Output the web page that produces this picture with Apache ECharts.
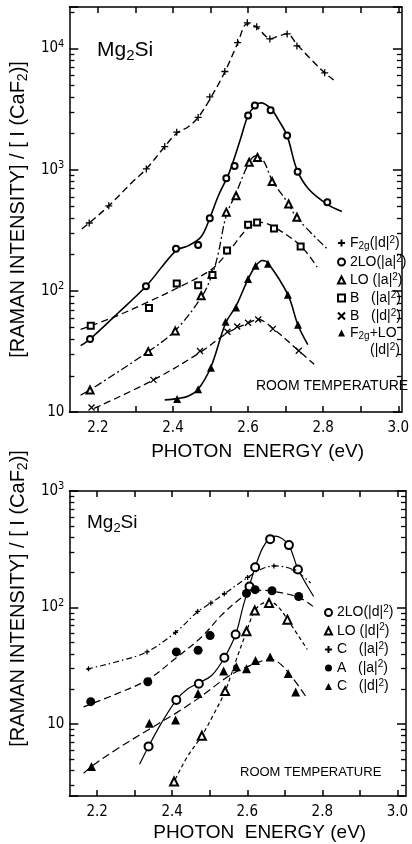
<!DOCTYPE html>
<html><head><meta charset="utf-8">
<script src="https://cdn.jsdelivr.net/npm/echarts@6/dist/echarts.min.js"></script>
<style>html,body{margin:0;padding:0;background:#fff}#c{width:412px;height:844px}</style>
</head><body><div id="c"></div>
<script>
// ================= DATA =================
// Axis ticks / labels
const X_TICKS = [2.2, 2.3, 2.4, 2.5, 2.6, 2.7, 2.8, 2.9, 3.0];
const X_LABELS = [2.2, 2.4, 2.6, 2.8, 3.0];
const TOP_Y_MINOR = [20,30,40,50,60,70,80,90,200,300,400,500,600,700,800,900,2000,3000,4000,5000,6000,7000,8000,9000,20000];
const BOT_Y_MINOR = [3,4,5,6,7,8,9,20,30,40,50,60,70,80,90,200,300,400,500,600,700,800,900];

// ---- Top panel: measured points [photon energy eV, intensity ratio] ----
const TOP_F2G_D_PTS = [[2.177,363],[2.229,503],[2.329,1015],[2.378,1550],[2.41,2040],[2.467,2700],[2.498,3980],[2.538,6460],[2.572,11200],[2.598,16300],[2.623,15100],[2.658,12000],[2.704,13200],[2.73,10500],[2.804,6300]];
const TOP_2LO_A_PTS = [[2.179,40],[2.328,109],[2.408,222],[2.467,239],[2.498,398],[2.542,850],[2.564,1070],[2.60,2800],[2.618,3390],[2.66,3090],[2.704,1910],[2.732,960],[2.811,538]];
const TOP_LO_A_PTS = [[2.179,15.2],[2.334,31.5],[2.406,46.7],[2.475,91],[2.504,137],[2.542,446],[2.568,609],[2.603,1150],[2.625,1260],[2.664,797],[2.708,521],[2.73,405]];
const TOP_B_A_PTS = [[2.181,51.6],[2.336,72],[2.41,115],[2.467,111],[2.505,135],[2.544,215],[2.60,351],[2.624,366],[2.669,327],[2.74,232]];
const TOP_B_D_PTS = [[2.183,10.9],[2.348,18.4],[2.472,31.9],[2.545,46],[2.571,50.7],[2.60,54.5],[2.627,58],[2.666,48.5],[2.735,32]];
const TOP_F2GLO_D_PTS = [[2.411,12.8],[2.467,15.4],[2.501,23.2],[2.54,55.7],[2.568,73],[2.60,125],[2.62,161],[2.653,167],[2.706,92.7],[2.733,52.4]];

// ---- Top panel: drawn guide curves ----
const TOP_F2G_D_CURVE = [[2.157,324],[2.177,363],[2.229,503],[2.29,780],[2.329,1015],[2.378,1550],[2.41,2000],[2.44,2250],[2.467,2700],[2.498,3800],[2.538,6400],[2.572,11000],[2.598,16000],[2.623,15000],[2.645,12800],[2.658,12000],[2.68,12600],[2.704,13200],[2.73,10800],[2.77,8000],[2.804,6300],[2.828,5500]];
const TOP_2LO_A_CURVE = [[2.154,35.3],[2.179,40],[2.25,64],[2.328,109],[2.408,215],[2.44,235],[2.475,280],[2.498,398],[2.52,600],[2.55,950],[2.58,1800],[2.60,2800],[2.62,3400],[2.634,3560],[2.66,3200],[2.68,2600],[2.704,1900],[2.73,1000],[2.76,700],[2.81,520],[2.85,452]];
const TOP_LO_A_CURVE = [[2.154,13.8],[2.179,15.2],[2.334,31.5],[2.406,47],[2.475,88],[2.504,135],[2.52,200],[2.542,420],[2.568,640],[2.60,1100],[2.62,1300],[2.64,1200],[2.664,820],[2.708,520],[2.73,400],[2.809,225]];
const TOP_B_A_CURVE = [[2.154,48],[2.244,61],[2.33,80],[2.41,105],[2.502,150],[2.55,215],[2.60,330],[2.634,367],[2.67,335],[2.74,235],[2.784,157]];
const TOP_B_D_CURVE = [[2.19,10.7],[2.348,18.4],[2.472,31],[2.545,45],[2.60,54],[2.627,58],[2.666,49],[2.735,32],[2.776,24.8]];
const TOP_F2GLO_D_CURVE = [[2.378,12.6],[2.411,12.9],[2.44,13.5],[2.467,15.4],[2.501,23.5],[2.54,54],[2.568,75],[2.60,125],[2.62,160],[2.638,178],[2.653,170],[2.706,93],[2.733,52],[2.759,36]];

// ---- Bottom panel: measured points ----
const BOT_2LO_D_PTS = [[2.337,6.4],[2.411,16],[2.471,22.1],[2.539,36.9],[2.569,58.5],[2.606,151],[2.621,221],[2.661,386],[2.711,343],[2.735,212]];
const BOT_LO_D_PTS = [[2.405,3.2],[2.479,7.9],[2.541,19.1],[2.598,62.4],[2.62,94],[2.658,109],[2.707,78.5]];
const BOT_C_A_PTS = [[2.177,29.7],[2.333,41.5],[2.409,61],[2.468,92.4],[2.503,109],[2.539,131],[2.601,181],[2.671,227],[2.724,210]];
const BOT_A_A_PTS = [[2.183,15.5],[2.335,23],[2.411,41.5],[2.469,42.9],[2.501,57.3],[2.598,132],[2.621,142],[2.666,139],[2.737,124]];
const BOT_C_D_PTS = [[2.185,4.3],[2.339,10.1],[2.409,10.8],[2.469,18.2],[2.537,28.4],[2.571,30.9],[2.598,29.7],[2.622,35],[2.661,37.6],[2.709,27.1],[2.729,18.8]];

// ---- Bottom panel: drawn guide curves ----
const BOT_2LO_D_CURVE = [[2.313,4.5],[2.337,6.4],[2.37,10],[2.411,16],[2.44,19.8],[2.471,22.5],[2.505,26],[2.539,37],[2.569,58.5],[2.59,105],[2.606,155],[2.621,221],[2.64,320],[2.66,395],[2.675,410],[2.69,395],[2.711,343],[2.735,215],[2.777,124]];
const BOT_LO_D_CURVE = [[2.398,2.95],[2.405,3.2],[2.44,5.2],[2.479,7.9],[2.51,12],[2.541,19],[2.57,35],[2.598,62],[2.62,94],[2.64,108],[2.658,112],[2.68,103],[2.707,79],[2.76,43.5]];
const BOT_C_A_CURVE = [[2.173,29.3],[2.177,29.7],[2.25,34],[2.333,41.5],[2.409,61],[2.468,92],[2.503,109],[2.539,131],[2.601,181],[2.64,215],[2.671,227],[2.724,210],[2.769,162]];
const BOT_A_A_CURVE = [[2.164,14],[2.25,18],[2.335,24],[2.411,37],[2.479,56],[2.53,85],[2.58,118],[2.61,135],[2.64,140],[2.666,138],[2.737,122],[2.777,101]];
const BOT_C_D_CURVE = [[2.164,3.76],[2.185,4.3],[2.25,6],[2.339,9],[2.409,12.3],[2.469,16.5],[2.537,24],[2.571,28],[2.622,33],[2.661,36],[2.70,30],[2.76,16.4]];

// Axis ranges
const TOP_X_RANGE = [2.124, 3.0097];
const TOP_Y_RANGE = [10, 22000];
const BOT_X_RANGE = [2.126, 3.023];
const BOT_Y_RANGE = [2.4, 1000];

// ================= STYLE / BUILD =================
const FONT = "'Liberation Sans', 'DejaVu Sans', sans-serif";
const NARROW = "'Liberation Sans Narrow', 'DejaVu Sans Condensed', 'Liberation Sans', sans-serif";
const K = '#000';
const AXW = 1.5;

const LEGEND_TEXT = {
  'F2g_d': '{t|F}{sub|2g}{t|(|d|}{sup|2}{t|)}',
  '2LO_a': '{t|2LO(|a|}{sup|2}{t|)}',
  'LO_a': '{t|LO (|a|}{sup|2}{t|)}',
  'B_a': '{t|B   (|a|}{sup|2}{t|)}',
  'B_d': '{t|B   (|d|}{sup|2}{t|)}',
  'F2gLO_d': '{t|F}{sub|2g}{t|+LO}',
  '2LO_d': '{t|2LO(|d|}{sup|2}{t|)}',
  'LO_d': '{t|LO (|d|}{sup|2}{t|)}',
  'C_a': '{t|C   (|a|}{sup|2}{t|)}',
  'A_a': '{t|A   (|a|}{sup|2}{t|)}',
  'C_d': '{t|C   (|d|}{sup|2}{t|)}'
};
function legendRich(fs, lh) {
  return {
    t: {fontFamily: FONT, fontSize: fs, lineHeight: lh, color: K},
    sub: {fontFamily: FONT, fontSize: fs - 4, lineHeight: fs - 4, verticalAlign: 'bottom', color: K},
    sup: {fontFamily: FONT, fontSize: fs - 4, lineHeight: fs - 4, verticalAlign: 'top', color: K}
  };
}

function logLabel(v) {
  const e = Math.log10(v);
  const n = Math.round(e);
  if (Math.abs(e - n) > 1e-6) return '';
  return n === 1 ? '{b|10}' : '{b|10}{s|' + n + '}';
}
const LOG_RICH = {
  b: {fontFamily: NARROW, fontSize: 15, lineHeight: 20, color: K},
  s: {fontFamily: NARROW, fontSize: 11, lineHeight: 11, verticalAlign: 'top', color: K}
};

function xAxisDef(grid, range, pos, withLabels, nameGap) {
  return {
    type: 'value', gridIndex: grid, position: pos, min: range[0], max: range[1],
    axisLine: {show: true, onZero: false, lineStyle: {color: K, width: AXW}},
    axisTick: {show: true, inside: true, length: 6, customValues: X_TICKS, lineStyle: {color: K, width: AXW}},
    axisLabel: withLabels ? {show: true, customValues: X_LABELS, formatter: v => Number(v).toFixed(1), margin: 9,
      fontFamily: NARROW, fontSize: 15, color: K} : {show: false},
    splitLine: {show: false},
    name: withLabels ? 'PHOTON  ENERGY (eV)' : '', nameLocation: 'middle', nameGap: nameGap,
    nameTextStyle: {fontFamily: FONT, fontSize: 19, color: K, padding: [0, 0, 0, 44]}
  };
}
function yAxisDef(grid, range, pos, withLabels, nameGap, namePad) {
  return {
    type: 'log', logBase: 10, gridIndex: grid, position: pos, min: range[0], max: range[1],
    axisLine: {show: true, onZero: false, lineStyle: {color: K, width: AXW}},
    axisTick: {show: true, inside: true, length: 9, lineStyle: {color: K, width: AXW}},
    minorTick: {show: false},
    axisLabel: withLabels ? {show: true, formatter: logLabel, rich: LOG_RICH, margin: 5} : {show: false},
    splitLine: {show: false},
    name: withLabels ? '{t|[RAMAN INTENSITY] / [ I (CaF}{sub|2}{t|)]}' : '',
    nameLocation: 'middle', nameGap: nameGap,
    nameTextStyle: {padding: namePad, rich: {
      t: {fontFamily: FONT, fontSize: 20, lineHeight: 24, color: K},
      sub: {fontFamily: FONT, fontSize: 14, lineHeight: 14, verticalAlign: 'bottom', color: K}
    }}
  };
}

// minor log ticks: short strokes at both frame edges, placed through the log axis scale
function minorTicks(grid, xRef, values, len) {
  return {
    type: 'custom', name: 'minor' + grid, xAxisIndex: grid * 2, yAxisIndex: grid * 2,
    coordinateSystem: 'cartesian2d', silent: true, clip: false, z: 10,
    encode: {x: 0, y: 1},
    data: values.map(v => [xRef, v]),
    renderItem: function (params, api) {
      const p = api.coord([api.value(0), api.value(1)]);
      const cs = params.coordSys;
      const y = Math.round(p[1]) + 0.5;
      const L = cs.x, R = cs.x + cs.width;
      return {type: 'group', children: [
        {type: 'line', shape: {x1: L, y1: y, x2: L + len, y2: y}, style: {stroke: '#000', lineWidth: 1.3}},
        {type: 'line', shape: {x1: R - len, y1: y, x2: R, y2: y}, style: {stroke: '#000', lineWidth: 1.3}}
      ]};
    }
  };
}

function curve(name, grid, data, dash, width) {
  return {type: 'line', name: name, xAxisIndex: grid * 2, yAxisIndex: grid * 2, data: data,
    showSymbol: false, symbol: 'none', smooth: 0.35, silent: true, z: 2,
    lineStyle: {color: K, width: width, type: dash}};
}
const PLUS = 'path://M0,5L10,5M5,0L5,10';
const CROSS = 'path://M0,0L10,10M10,0L0,10';
function marks(name, grid, data, symbol, size, bw) {
  return {type: 'scatter', name: name, xAxisIndex: grid * 2, yAxisIndex: grid * 2, data: data,
    symbol: symbol, symbolSize: size, silent: true, z: 3,
    itemStyle: {color: K, borderColor: K, borderWidth: bw, opacity: 1}};
}

const option = {
  animation: false,
  backgroundColor: '#fff',
  grid: [
    {left: 69, top: 7, width: 338, height: 405},
    {left: 55, top: 491, width: 351, height: 305}
  ],
  xAxis: [
    xAxisDef(0, TOP_X_RANGE, 'bottom', true, 30),
    xAxisDef(0, TOP_X_RANGE, 'top', false, 0),
    xAxisDef(1, BOT_X_RANGE, 'bottom', true, 27),
    xAxisDef(1, BOT_X_RANGE, 'top', false, 0)
  ],
  yAxis: [
    yAxisDef(0, TOP_Y_RANGE, 'left', true, 31, [0, 0, 0, 0]),
    yAxisDef(0, TOP_Y_RANGE, 'right', false, 0, 0),
    yAxisDef(1, BOT_Y_RANGE, 'left', true, 20, [0, 0, 0, 90]),
    yAxisDef(1, BOT_Y_RANGE, 'right', false, 0, 0)
  ],
  legend: [
    {orient: 'vertical', left: 332, top: 230, itemWidth: 7, itemHeight: 7, itemGap: 3, selectedMode: false,
      data: ['F2g_d', '2LO_a', 'LO_a', 'B_a', 'B_d', 'F2gLO_d'],
      formatter: n => LEGEND_TEXT[n], textStyle: {rich: legendRich(14, 16)}},
    {orient: 'vertical', left: 319, top: 599, itemWidth: 7, itemHeight: 7, itemGap: 3, selectedMode: false,
      data: ['2LO_d', 'LO_d', 'C_a', 'A_a', 'C_d'],
      formatter: n => LEGEND_TEXT[n], textStyle: {rich: legendRich(14, 17)}}
  ],
  graphic: [
    {type: 'text', left: 97, top: 40, style: {text: '{a|Mg}{s|2}{a|Si}', rich: {
      a: {fontFamily: FONT, fontSize: 21, lineHeight: 26, fill: K},
      s: {fontFamily: FONT, fontSize: 15, lineHeight: 15, verticalAlign: 'bottom', fill: K}}}},
    {type: 'text', left: 256, top: 379, style: {text: 'ROOM TEMPERATURE', fontFamily: FONT, fontSize: 14, fill: K}},
    {type: 'text', left: 370, top: 342, style: {text: '{t|(|d|}{sup|2}{t|)}', rich: legendRich(14, 16)}},
    {type: 'text', left: 87, top: 513, style: {text: '{a|Mg}{s|2}{a|Si}', rich: {
      a: {fontFamily: FONT, fontSize: 19, lineHeight: 24, fill: K},
      s: {fontFamily: FONT, fontSize: 13, lineHeight: 13, verticalAlign: 'bottom', fill: K}}}},
    {type: 'text', left: 240, top: 766, style: {text: 'ROOM TEMPERATURE', fontFamily: FONT, fontSize: 13, fill: K}}
  ],
  series: [
    // top curves
    curve('c_F2g_d', 0, TOP_F2G_D_CURVE, [7, 4], 1.4),
    curve('c_2LO_a', 0, TOP_2LO_A_CURVE, 'solid', 1.6),
    curve('c_LO_a', 0, TOP_LO_A_CURVE, [8, 3, 2, 3], 1.3),
    curve('c_B_a', 0, TOP_B_A_CURVE, [7, 4], 1.3),
    curve('c_B_d', 0, TOP_B_D_CURVE, [7, 4], 1.3),
    curve('c_F2gLO_d', 0, TOP_F2GLO_D_CURVE, 'solid', 1.6),
    // top markers
    marks('F2g_d', 0, TOP_F2G_D_PTS, PLUS, 7, 1.3),
    marks('2LO_a', 0, TOP_2LO_A_PTS, 'emptyCircle', 6, 1.2),
    marks('LO_a', 0, TOP_LO_A_PTS, 'emptyTriangle', 7, 1.2),
    marks('B_a', 0, TOP_B_A_PTS, 'emptyRect', 6, 1.2),
    marks('B_d', 0, TOP_B_D_PTS, CROSS, 6, 1.3),
    marks('F2gLO_d', 0, TOP_F2GLO_D_PTS, 'triangle', 8, 0),
    // bottom curves
    curve('c_2LO_d', 1, BOT_2LO_D_CURVE, 'solid', 1.2),
    curve('c_LO_d', 1, BOT_LO_D_CURVE, [4, 3], 1.2),
    curve('c_C_a', 1, BOT_C_A_CURVE, [6, 3, 1.5, 3], 1.2),
    curve('c_A_a', 1, BOT_A_A_CURVE, [7, 4], 1.2),
    curve('c_C_d', 1, BOT_C_D_CURVE, [8, 4], 1.2),
    // bottom markers
    marks('2LO_d', 1, BOT_2LO_D_PTS, 'emptyCircle', 8, 1.2),
    marks('LO_d', 1, BOT_LO_D_PTS, 'emptyTriangle', 8, 1.1),
    marks('C_a', 1, BOT_C_A_PTS, PLUS, 5, 1.3),
    marks('A_a', 1, BOT_A_A_PTS, 'circle', 9, 0),
    marks('C_d', 1, BOT_C_D_PTS, 'triangle', 9, 0),
    // minor ticks
    minorTicks(0, 2.5, TOP_Y_MINOR, 5),
    minorTicks(1, 2.5, BOT_Y_MINOR, 5)
  ]
};

const chart = echarts.init(document.getElementById('c'), null, {renderer: 'canvas'});
chart.setOption(option);
</script>
</body></html>
